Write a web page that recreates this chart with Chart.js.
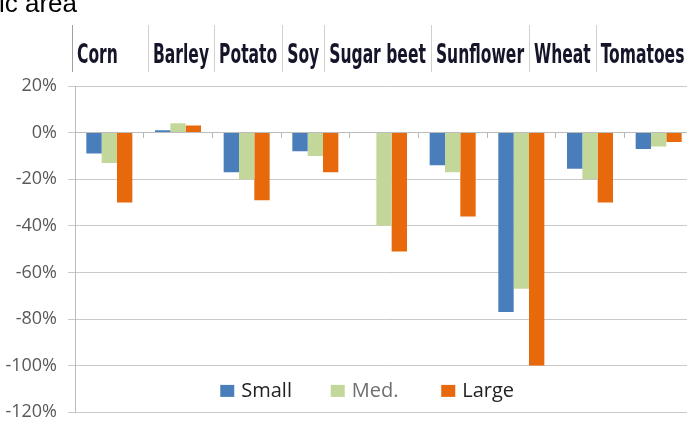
<!DOCTYPE html>
<html>
<head>
<meta charset="utf-8">
<script src="https://cdn.jsdelivr.net/npm/chart.js@4.4.1/dist/chart.umd.min.js"></script>
<style>
  html, body { margin: 0; padding: 0; background: #fff; overflow: hidden; }
  #wrap { position: relative; width: 687px; height: 434px; overflow: hidden; }
  canvas { display: block; }
</style>
</head>
<body>
<div id="wrap"><canvas id="chart" width="693" height="434"></canvas></div>
<script>
// Change in yield by farm size, per crop (percent)
const crops  = ['Corn', 'Barley', 'Potato', 'Soy', 'Sugar beet', 'Sunflower', 'Wheat', 'Tomatoes', ''];
const small  = [-9, 1, -17, -8, 0, -14, -77, -15.5, -7];
const med    = [-13, 4, -20, -10, -40, -17, -67, -20, -6];
const large  = [-30, 3, -29, -17, -51, -36, -100, -30, -4];
const seriesNames = ['Small', 'Med.', 'Large'];
const yTicks = [20, 0, -20, -40, -60, -80, -100, -120];
const caption = 'ic area';

// Crop names written in a ruled row above the plot
const headerRow = {
  id: 'headerRow',
  afterDraw(chart, args, o) {
    const { ctx, chartArea } = chart;
    const top = chartArea.top;
    ctx.save();
    ctx.font = o.font;
    ctx.fillStyle = o.color;
    ctx.textBaseline = 'alphabetic';
    let x = chartArea.left + o.startOffset;
    chart.data.labels.filter(l => l).forEach((label, i) => {
      ctx.strokeStyle = i === 0 ? o.firstRuleColor : o.ruleColor;
      ctx.lineWidth = 1;
      ctx.beginPath();
      ctx.moveTo(Math.round(x) + 0.5, top - o.ruleTop);
      ctx.lineTo(Math.round(x) + 0.5, top - o.ruleBottom);
      ctx.stroke();
      const w = ctx.measureText(label).width * o.stretch;
      ctx.save();
      ctx.translate(x + o.pad, top - o.baseline);
      ctx.scale(o.stretch, 1);
      ctx.fillText(label, 0, 0);
      ctx.restore();
      let cell = w + 2 * o.pad;
      if (i === 0) cell = Math.max(cell, o.firstCellWidth);
      x += cell;
    });
    ctx.restore();
  }
};

// Series key drawn inside the plot, below the deepest bar
const swatchLegend = {
  id: 'swatchLegend',
  afterDraw(chart, args, o) {
    const { ctx, chartArea, scales } = chart;
    const base = scales.y.getPixelForValue(o.atValue) + o.baselineShift;
    const n = chart.data.datasets.length;
    const start = (chartArea.left + chartArea.right) / 2 - n * o.slot / 2 + o.shift;
    ctx.save();
    ctx.font = o.font;
    ctx.textBaseline = 'alphabetic';
    chart.data.datasets.forEach((ds, i) => {
      const bx = start + i * o.slot;
      ctx.fillStyle = ds.backgroundColor;
      ctx.fillRect(bx, base - o.boxH, o.boxW, o.boxH);
      ctx.fillStyle = o.textColors[i];
      ctx.fillText(ds.label, bx + o.textGap, base);
    });
    ctx.restore();
  }
};

// Clipped heading at the very top
const topCaption = {
  id: 'topCaption',
  afterDraw(chart, args, o) {
    const { ctx } = chart;
    ctx.save();
    ctx.font = o.font;
    ctx.fillStyle = o.color;
    ctx.textBaseline = 'alphabetic';
    ctx.fillText(o.text, o.x, o.y);
    ctx.restore();
  }
};

new Chart(document.getElementById('chart'), {
  type: 'bar',
  data: {
    labels: crops,
    datasets: [
      { label: seriesNames[0], data: small, backgroundColor: '#4a7ebb' },
      { label: seriesNames[1], data: med,   backgroundColor: '#c4d79b' },
      { label: seriesNames[2], data: large, backgroundColor: '#e8690b' }
    ]
  },
  options: {
    responsive: false,
    animation: false,
    devicePixelRatio: 1,
    layout: { padding: { top: 86, bottom: 16, left: 0, right: 0 } },
    datasets: { bar: { categoryPercentage: 0.67, barPercentage: 1, borderWidth: 0 } },
    plugins: {
      legend: { display: false },
      tooltip: { enabled: false },
      headerRow: {
        font: 'bold 26px "DejaVu Sans Condensed", "DejaVu Sans"',
        color: '#15152a',
        stretch: 0.665,
        pad: 5,
        startOffset: -3,
        firstCellWidth: 76,
        baseline: 23,
        ruleTop: 61,
        ruleBottom: 14,
        ruleColor: '#d0d0d0',
        firstRuleColor: '#a0a0a0'
      },
      swatchLegend: {
        atValue: -110,
        baselineShift: 8,
        slot: 110.5,
        shift: 2,
        boxW: 14,
        boxH: 12,
        textGap: 21,
        font: '20px "Open Sans"',
        textColors: ['#222222', '#6f6f6f', '#222222']
      },
      topCaption: {
        text: caption,
        font: '26px "Liberation Sans"',
        color: '#000000',
        x: -1,
        y: 12
      }
    },
    scales: {
      x: {
        type: 'category',
        position: { y: 0 },
        offset: true,
        grid: { offset: true, drawOnChartArea: false, drawTicks: true, tickLength: 5, color: '#b8b8b8' },
        border: { display: true, color: '#bcbcbc', width: 1 },
        ticks: { display: false }
      },
      y: {
        min: -120,
        max: 20,
        afterBuildTicks(scale) { scale.ticks = yTicks.map(v => ({ value: v })); },
        afterFit(scale) { scale.width = 75; },
        grid: { color: '#c9c9c9', lineWidth: 1, tickLength: 7 },
        border: { display: true, color: '#bcbcbc', width: 1 },
        ticks: {
          padding: 11,
          color: '#595959',
          font: { family: 'Open Sans', size: 18 },
          callback: v => v + '%'
        }
      }
    }
  },
  plugins: [headerRow, swatchLegend, topCaption]
});
</script>
</body>
</html>
